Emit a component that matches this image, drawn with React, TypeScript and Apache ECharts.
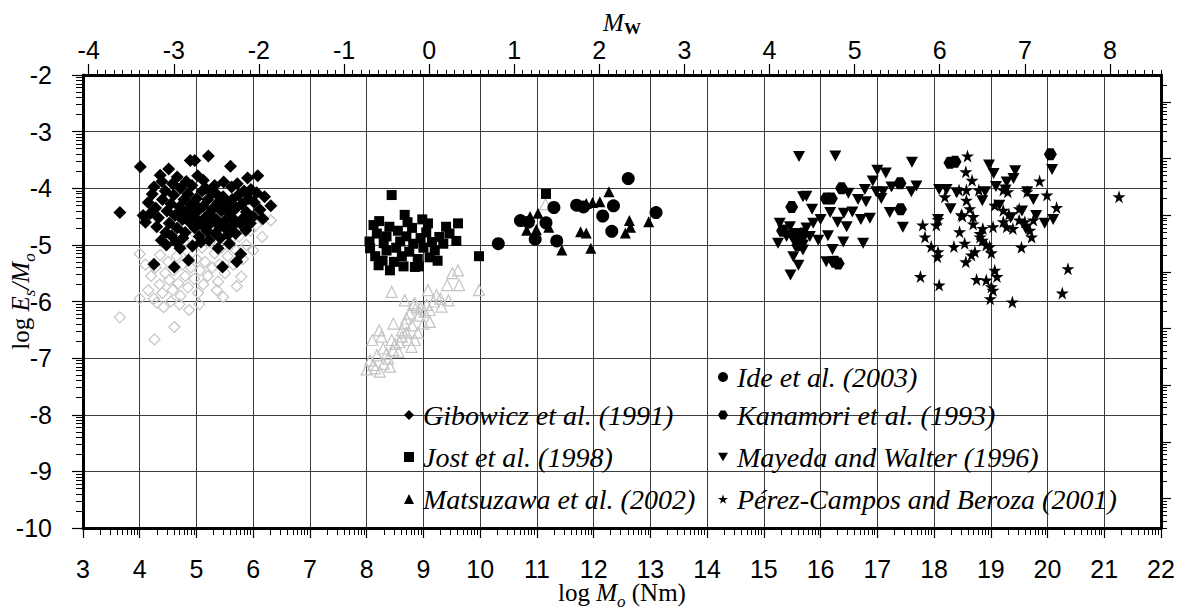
import React, { useEffect, useRef } from 'react';
import * as echarts from 'echarts';

const SERIF = 'Liberation Serif';
const SANS = 'Liberation Sans';

// axis ticks
const xTicks = [3, 4, 5, 6, 7, 8, 9, 10, 11, 12, 13, 14, 15, 16, 17, 18, 19, 20, 21, 22];
const yTicks = [-10, -9, -8, -7, -6, -5, -4, -3, -2];
const mwTicks = [-4, -3, -2, -1, 0, 1, 2, 3, 4, 5, 6, 7, 8];
const stressTicks = [1, 2, 3, 4, 5, 6, 7, 8];
const LOG_MU = 10.477; // log10(3e10) for apparent-stress axis

// series names
const names = {
  gib: 'Gibowicz et al. (1991)',
  jost: 'Jost et al. (1998)',
  mats: 'Matsuzawa et al. (2002)',
  ide: 'Ide et al. (2003)',
  kan: 'Kanamori et al. (1993)',
  may: 'Mayeda and Walter (1996)',
  per: 'Pérez-Campos and Beroza (2001)',
};

// [log Mo, log Es/Mo]
const gibowicz = [
  [3.65, -4.43], [4.01, -3.62], [5.21, -3.43], [4.89, -3.51], [4.97, -3.51], [5.6, -3.61], [6.08, -3.78], [4.51, -3.66],
  [4.36, -3.77], [4.39, -3.88], [4.66, -3.8], [5.12, -3.86], [5.48, -3.89], [5.62, -3.98], [6.31, -4.31], [6.17, -4.54],
  [4.06, -4.48], [4.3, -4.68], [4.71, -5.06], [4.86, -5.27], [4.25, -5.34], [4.61, -5.39], [5.46, -5.39], [5.71, -5.3],
  [5.78, -5.16], [5.38, -5.06], [5.87, -4.74], [4.56, -4.84], [5.62, -4.68], [6.0, -4.5],
  [4.15, -4.25], [4.22, -4.1], [4.28, -4.35], [4.33, -4.52], [4.4, -4.2], [4.45, -4.05], [4.48, -4.4], [4.52, -4.62],
  [4.55, -4.28], [4.6, -4.12], [4.62, -4.48], [4.66, -4.7], [4.7, -4.33], [4.72, -4.0], [4.75, -4.55], [4.78, -4.2],
  [4.8, -4.78], [4.83, -4.42], [4.85, -4.1], [4.88, -4.6], [4.9, -4.3], [4.92, -3.95], [4.95, -4.5], [4.97, -4.7],
  [5.0, -4.18], [5.02, -4.4], [5.05, -4.85], [5.07, -4.6], [5.1, -4.05], [5.12, -4.32], [5.15, -4.52], [5.18, -4.75],
  [5.2, -4.2], [5.23, -4.45], [5.25, -4.62], [5.28, -4.08], [5.3, -4.35], [5.33, -4.8], [5.35, -4.55], [5.38, -4.25],
  [5.41, -4.68], [5.44, -4.4], [5.47, -4.15], [5.5, -4.58], [5.53, -4.3], [5.56, -4.82], [5.59, -4.45], [5.63, -4.2],
  [5.66, -4.55], [5.7, -4.35], [5.74, -4.12], [5.77, -4.62], [5.8, -4.28], [5.84, -4.05], [5.88, -4.42], [5.92, -4.18],
  [5.96, -4.02], [6.02, -4.25], [6.06, -4.08], [6.12, -4.38], [4.1, -4.6], [4.18, -4.45], [4.38, -4.92], [4.47, -5.0],
  [4.64, -4.95], [4.76, -4.88], [4.93, -5.02], [5.08, -4.95], [5.22, -4.92], [5.42, -4.88], [5.58, -4.98], [5.69, -4.8],
  [5.95, -4.62], [4.58, -3.92], [4.82, -3.88], [5.02, -3.78], [5.32, -3.95], [5.72, -3.92], [5.9, -3.82], [6.2, -4.15],
  [4.25, -3.98], [4.46, -4.78], [5.16, -4.0], [5.37, -4.12], [4.99, -4.3], [4.87, -4.55], [5.13, -4.68], [4.69, -4.45],
  [5.27, -4.38], [5.52, -4.72], [5.83, -4.52],
];

const gibowiczGray = [
  [3.65, -6.28], [4.26, -6.67], [4.61, -6.45], [4.87, -6.15], [4.0, -5.16], [5.47, -5.92], [5.79, -5.56], [5.71, -5.73],
  [6.16, -4.86], [6.31, -4.57], [5.38, -5.65], [4.0, -5.95], [4.3, -6.02], [4.55, -6.0], [4.7, -6.05], [4.36, -5.18],
  [4.2, -5.55], [4.28, -5.4], [4.35, -5.7], [4.4, -5.85], [4.45, -5.5], [4.5, -5.3], [4.52, -5.62], [4.58, -5.8],
  [4.6, -5.45], [4.65, -5.2], [4.68, -5.68], [4.72, -5.9], [4.75, -5.35], [4.8, -5.55], [4.82, -5.1], [4.85, -5.75],
  [4.9, -5.4], [4.93, -5.0], [4.96, -5.6], [5.0, -5.25], [5.03, -5.85], [5.06, -5.45], [5.1, -5.05], [5.12, -5.7],
  [5.15, -5.3], [5.2, -5.55], [5.24, -4.95], [5.28, -5.4], [5.32, -5.15], [5.36, -5.8], [5.4, -5.35], [5.44, -5.05],
  [5.5, -5.5], [5.55, -5.2], [5.6, -4.9], [5.65, -5.35], [5.7, -5.1], [5.75, -4.85], [5.82, -5.25], [5.88, -5.0],
  [5.95, -4.75], [6.0, -5.1], [6.05, -4.65], [4.15, -5.8], [4.1, -5.35], [4.42, -6.1], [4.25, -5.95], [5.05, -6.05],
  [4.78, -4.95], [4.98, -4.8], [5.18, -4.85],
];

const jost = [
  [8.44, -4.12], [11.16, -4.1], [9.98, -5.2], [8.12, -4.65], [8.22, -4.58], [8.4, -4.68], [8.67, -4.47], [9.08, -4.62],
  [9.61, -4.62], [9.58, -4.93], [9.46, -4.8], [9.28, -4.86], [9.11, -5.22], [8.85, -5.39], [8.41, -5.45], [8.21, -5.36],
  [8.06, -5.06], [8.05, -4.94], [8.59, -4.94], [8.3, -4.97], [8.15, -5.2], [8.28, -5.28], [8.35, -5.1], [8.48, -5.3],
  [8.52, -5.05], [8.62, -5.2], [8.7, -4.85], [8.75, -5.12], [8.8, -4.7], [8.82, -4.98], [8.9, -5.25], [8.95, -4.88],
  [9.0, -5.05], [9.05, -4.78], [9.15, -4.95], [9.2, -5.1], [9.35, -4.98], [9.4, -4.68], [8.72, -4.6], [8.55, -4.75],
  [8.92, -5.38], [8.65, -5.38], [8.35, -4.85], [9.25, -5.28], [8.18, -4.8], [8.98, -4.55],
];

const matsuzawaGray = [
  [9.98, -5.8], [9.51, -5.5], [9.61, -5.45], [9.42, -5.71], [9.63, -5.71], [8.44, -5.83], [8.06, -7.04], [8.12, -7.12],
  [8.23, -7.24], [8.41, -7.15], [8.38, -7.01], [8.22, -6.51], [8.1, -6.68], [8.29, -6.83], [8.47, -6.86], [8.56, -6.89],
  [8.44, -6.68], [8.47, -6.39], [8.62, -6.51], [8.73, -6.68], [8.79, -6.8], [8.85, -6.68], [8.67, -6.39], [8.76, -6.21],
  [8.82, -6.06], [8.88, -6.09], [9.06, -6.06], [9.11, -6.36], [9.0, -6.39], [9.11, -6.15], [9.32, -6.09], [9.44, -5.98],
  [9.23, -5.89], [9.08, -5.8], [8.67, -5.98], [8.85, -6.03], [8.15, -7.18], [8.3, -7.1], [8.18, -6.95], [8.35, -6.92],
  [8.5, -6.75], [8.62, -6.62], [8.7, -6.55], [8.8, -6.42], [8.92, -6.25], [8.95, -6.12], [9.02, -6.18], [8.58, -6.72],
  [8.7, -6.3], [9.18, -6.0], [9.3, -5.95], [8.26, -6.62], [8.0, -7.2], [8.9, -6.55], [11.15, -4.28],
];

const ide = [
  [12.61, -3.83], [13.1, -4.43], [10.32, -4.98], [10.71, -4.57], [10.97, -4.9], [11.16, -4.61], [11.3, -4.34],
  [11.35, -4.93], [11.7, -4.3], [11.82, -4.33], [12.16, -4.49], [12.35, -4.31], [12.32, -4.76], [10.85, -4.6],
];

const matsuzawa = [
  [12.27, -4.06], [12.11, -4.24], [11.98, -4.25], [11.87, -4.27], [12.63, -4.57], [12.65, -4.69], [12.56, -4.79],
  [12.97, -4.59], [11.77, -4.77], [11.87, -4.79], [11.95, -5.06], [11.44, -5.09], [10.88, -4.5], [11.02, -4.44],
  [10.82, -4.74], [10.99, -4.73], [11.21, -4.69],
];

const kanamori = [
  [20.05, -3.4], [18.28, -3.55], [18.37, -3.53], [15.49, -4.33], [16.37, -4.0], [17.4, -3.91], [17.41, -4.37],
  [16.1, -4.18], [16.19, -4.18], [15.55, -4.86], [15.63, -4.92], [15.69, -4.8], [16.31, -5.33], [15.33, -4.75],
  [15.6, -5.0], [16.25, -5.3],
];

const mayeda = [
  [15.62, -3.44], [16.26, -3.43], [17.61, -3.54], [17.0, -3.68], [17.15, -3.73], [18.97, -3.59], [19.05, -3.74],
  [19.43, -3.69], [19.4, -3.83], [19.28, -3.89], [20.08, -3.67], [16.92, -3.87], [16.78, -4.02], [16.98, -4.06],
  [17.1, -4.06], [17.07, -4.18], [17.25, -3.98], [17.69, -3.96], [17.6, -4.06], [18.09, -4.02], [18.22, -4.02],
  [18.9, -4.06], [19.09, -3.97], [19.26, -4.03], [19.64, -4.06], [15.69, -4.15], [15.75, -4.14], [15.85, -4.37],
  [16.49, -4.09], [16.66, -4.2], [16.8, -4.24], [16.56, -4.42], [16.71, -4.55], [16.87, -4.53], [17.22, -4.43],
  [17.45, -4.69], [18.29, -4.36], [16.17, -4.43], [16.41, -4.44], [16.46, -4.68], [16.13, -4.84], [16.4, -4.95],
  [16.75, -4.97], [16.21, -5.08], [16.1, -5.3], [16.22, -5.3], [15.28, -4.62], [15.34, -4.74], [15.25, -4.97],
  [15.46, -4.68], [15.55, -4.8], [15.69, -5.0], [15.87, -4.62], [15.96, -4.92], [15.52, -5.21], [15.61, -5.36],
  [15.47, -5.53], [15.69, -5.09], [15.81, -4.85], [18.07, -4.55], [19.35, -4.52], [19.55, -4.4], [19.8, -4.48],
  [19.62, -4.72], [18.85, -4.22], [19.15, -4.3], [20.1, -4.55], [19.95, -4.62], [18.4, -4.08], [19.75, -4.2],
  [15.4, -4.85], [15.75, -4.7], [16.0, -4.55], [16.3, -4.6],
];

const perez = [
  [18.59, -3.43], [18.56, -3.71], [18.67, -3.86], [18.44, -4.03], [18.57, -4.03], [18.79, -4.03], [19.22, -4.03],
  [19.3, -4.06], [19.64, -4.06], [19.86, -3.87], [19.99, -4.12], [20.16, -4.34], [21.26, -4.15], [18.19, -4.15],
  [18.57, -4.21], [18.63, -4.36], [18.5, -4.49], [18.69, -4.5], [19.07, -4.3], [19.22, -4.39], [19.5, -4.36],
  [19.32, -4.46], [17.8, -4.65], [18.04, -4.65], [18.07, -4.55], [17.84, -4.86], [17.95, -5.03], [18.07, -5.12],
  [18.06, -5.21], [18.35, -5.03], [18.45, -4.77], [18.54, -4.97], [18.56, -5.3], [18.72, -5.12], [18.81, -4.86],
  [18.86, -4.71], [19.04, -4.68], [19.22, -4.59], [19.28, -4.68], [19.39, -4.71], [19.5, -4.56], [19.6, -4.59],
  [19.75, -4.56], [19.69, -4.74], [19.72, -4.86], [19.54, -5.04], [18.98, -5.03], [19.01, -5.14], [19.07, -5.45],
  [19.11, -5.56], [18.75, -5.61], [18.92, -5.62], [19.01, -5.74], [19.04, -5.8], [18.99, -5.95], [19.38, -6.01],
  [18.09, -5.71], [17.76, -5.56], [20.36, -5.42], [20.26, -5.85], [18.92, -5.0], [18.85, -4.92], [18.66, -5.18],
  [18.81, -4.8], [18.69, -4.63], [18.48, -4.47],
];

const STAR = 'path://M50,0 L61,35 L98,35 L68,57 L79,91 L50,70 L21,91 L32,57 L2,35 L39,35 Z';
const HEX = 'path://M27,0 L73,0 L100,45 L73,90 L27,90 L0,45 Z';
const INV_TRI = 'path://M0,0 L100,0 L50,87 Z';

const logMinor = (lo: number, hi: number, from: number, to: number) => {
  const out: number[] = [];
  for (let n = from; n <= to; n++) {
    for (let k = 2; k <= 9; k++) {
      const v = n + Math.log10(k);
      if (v > lo && v < hi) out.push(+v.toFixed(4));
    }
  }
  return out;
};

export default function App() {
  const ref = useRef<HTMLDivElement>(null);

  useEffect(() => {
    document.body.style.margin = '0';
    if (!ref.current) return;
    const chart = echarts.init(ref.current, undefined, { renderer: 'svg' });

    const xMin = xTicks[0];
    const xMax = xTicks[xTicks.length - 1];
    const yMin = yTicks[0];
    const yMax = yTicks[yTicks.length - 1];
    const mwMin = (xMin - 9.1) / 1.5;
    const mwMax = (xMax - 9.1) / 1.5;
    const mwMinor: number[] = [];
    for (let i = Math.ceil(mwMin * 10); i <= Math.floor(mwMax * 10); i++) {
      if (i % 10 !== 0) mwMinor.push(i / 10);
    }

    const nameRich = {
      r: { fontFamily: SERIF, fontSize: 25, color: '#000', lineHeight: 36, verticalAlign: 'middle' },
      i: { fontFamily: SERIF, fontStyle: 'italic', fontSize: 25, color: '#000', lineHeight: 36, verticalAlign: 'middle' },
      s: { fontFamily: SERIF, fontStyle: 'italic', fontSize: 17, color: '#000', lineHeight: 36, verticalAlign: 'bottom' },
      w: { fontFamily: SERIF, fontWeight: 'bold', fontSize: 17, color: '#000', lineHeight: 30, verticalAlign: 'bottom' },
      m: { fontFamily: SERIF, fontStyle: 'italic', fontSize: 25, color: '#000', lineHeight: 30, verticalAlign: 'middle' },
    };
    const bottomRich = {
      r: { fontFamily: SERIF, fontSize: 25, color: '#000', lineHeight: 26, verticalAlign: 'top' },
      i: { fontFamily: SERIF, fontStyle: 'italic', fontSize: 25, color: '#000', lineHeight: 26, verticalAlign: 'top' },
      s: { fontFamily: SERIF, fontStyle: 'italic', fontSize: 17, color: '#000', lineHeight: 30, verticalAlign: 'bottom' },
    };

    const black = { color: '#000', opacity: 1 };
    const labelStyle = { fontFamily: SANS, fontSize: 25, color: '#000' };

    const mkLegend = (name: string, left: number, top: number) => ({
      data: [name],
      left,
      top,
      orient: 'vertical',
      padding: 0,
      itemGap: 0,
      itemWidth: 10,
      itemHeight: 10,
      selectedMode: false,
      formatter: '{t|{name}}',
      textStyle: {
        fontFamily: SERIF,
        fontStyle: 'italic',
        fontSize: 28,
        color: '#000',
        rich: {
          t: { fontFamily: SERIF, fontStyle: 'italic', fontSize: 28, lineHeight: 28, color: '#000', padding: [0, 0, 0, 4] },
        },
      },
    });

    const gridLine = { show: true, lineStyle: { color: '#3c3c3c', width: 1 } };

    chart.setOption({
      animation: false,
      backgroundColor: '#fff',
      grid: { left: 83, right: 26, top: 75, bottom: 82, containLabel: false, outerBoundsMode: 'none' },
      legend: [
        mkLegend(names.gib, 404, 401),
        mkLegend(names.jost, 404, 443),
        mkLegend(names.mats, 404, 485),
        mkLegend(names.ide, 718, 363),
        mkLegend(names.kan, 718, 401),
        mkLegend(names.may, 718, 443),
        mkLegend(names.per, 718, 485),
      ],
      xAxis: [
        {
          type: 'value', position: 'bottom', min: xMin, max: xMax, interval: 1,
          axisLine: { show: true, onZero: false, lineStyle: { color: '#000', width: 3 } },
          axisTick: { show: true, length: 10, lineStyle: { color: '#000', width: 1.2 } },
          axisLabel: { ...labelStyle, margin: 30, lineHeight: 22 },
          splitLine: gridLine,
          name: '{r|log }{i|M}{s|o}{r| (Nm)}',
          nameLocation: 'middle',
          nameGap: 52,
          nameMoveOverlap: false,
          nameTextStyle: { rich: bottomRich },
        },
        {
          type: 'value', position: 'bottom', min: xMin, max: xMax,
          axisLine: { show: false, onZero: false },
          axisTick: { show: true, length: 7, customValues: logMinor(xMin, xMax, xMin, xMax), lineStyle: { color: '#000', width: 1 } },
          axisLabel: { show: false },
          splitLine: { show: false },
        },
        {
          type: 'value', position: 'top', min: mwMin, max: mwMax,
          axisLine: { show: true, onZero: false, lineStyle: { color: '#000', width: 3 } },
          axisTick: { show: true, length: 11, customValues: mwTicks, lineStyle: { color: '#000', width: 1.2 } },
          axisLabel: { ...labelStyle, margin: 13, customValues: mwTicks },
          splitLine: { show: false },
          name: '{m|M}{w|W}',
          nameLocation: 'middle',
          nameGap: 38,
          nameMoveOverlap: false,
          nameTextStyle: { rich: nameRich },
        },
        {
          type: 'value', position: 'top', min: mwMin, max: mwMax,
          axisLine: { show: false, onZero: false },
          axisTick: { show: true, length: 5, customValues: mwMinor, lineStyle: { color: '#000', width: 1 } },
          axisLabel: { show: false },
          splitLine: { show: false },
        },
      ],
      yAxis: [
        {
          type: 'value', position: 'left', min: yMin, max: yMax, interval: 1,
          axisLine: { show: true, onZero: false, lineStyle: { color: '#000', width: 3 } },
          axisTick: { show: true, length: 11, lineStyle: { color: '#000', width: 1.2 } },
          axisLabel: { ...labelStyle, margin: 31 },
          splitLine: gridLine,
          name: '{r|log }{i|E}{s|s}{i|/M}{s|o}',
          nameLocation: 'middle',
          nameGap: 45,
          nameMoveOverlap: false,
          nameTextStyle: { rich: nameRich },
        },
        {
          type: 'value', position: 'left', min: yMin, max: yMax,
          axisLine: { show: false, onZero: false },
          axisTick: { show: true, length: 7, customValues: logMinor(yMin, yMax, yMin, yMax), lineStyle: { color: '#000', width: 1 } },
          axisLabel: { show: false },
          splitLine: { show: false },
        },
        {
          type: 'value', position: 'right', min: yMin + LOG_MU, max: yMax + LOG_MU,
          axisLine: { show: true, onZero: false, lineStyle: { color: '#000', width: 3 } },
          axisTick: { show: true, length: 10, customValues: stressTicks, lineStyle: { color: '#000', width: 1.2 } },
          axisLabel: { show: false },
          splitLine: { show: false },
        },
        {
          type: 'value', position: 'right', min: yMin + LOG_MU, max: yMax + LOG_MU,
          axisLine: { show: false, onZero: false },
          axisTick: { show: true, length: 6, customValues: logMinor(yMin + LOG_MU, yMax + LOG_MU, 0, 9), lineStyle: { color: '#000', width: 1 } },
          axisLabel: { show: false },
          splitLine: { show: false },
        },
      ],
      series: [
        {
          name: 'gibGray', type: 'scatter', data: gibowiczGray, symbol: 'diamond', symbolSize: 11,
          itemStyle: { color: 'rgba(0,0,0,0)', borderColor: '#c4c4c4', borderWidth: 1.2, opacity: 1 },
        },
        {
          name: 'matsGray', type: 'scatter', data: matsuzawaGray, symbol: 'triangle', symbolSize: 11,
          itemStyle: { color: 'rgba(0,0,0,0)', borderColor: '#c4c4c4', borderWidth: 1.2, opacity: 1 },
        },
        { name: names.gib, type: 'scatter', data: gibowicz, symbol: 'diamond', symbolSize: 13, itemStyle: black },
        { name: names.jost, type: 'scatter', data: jost, symbol: 'rect', symbolSize: 10, itemStyle: black },
        { name: names.mats, type: 'scatter', data: matsuzawa, symbol: 'triangle', symbolSize: 11, itemStyle: black },
        { name: names.ide, type: 'scatter', data: ide, symbol: 'circle', symbolSize: 13, itemStyle: black },
        { name: names.kan, type: 'scatter', data: kanamori, symbol: HEX, symbolSize: [13, 12], itemStyle: black },
        { name: names.may, type: 'scatter', data: mayeda, symbol: INV_TRI, symbolSize: [12, 11], itemStyle: black },
        { name: names.per, type: 'scatter', data: perez, symbol: STAR, symbolSize: [13, 13], itemStyle: black },
      ],
    });

    return () => chart.dispose();
  }, []);

  return <div ref={ref} style={{ width: 1187, height: 610 }} />;
}
